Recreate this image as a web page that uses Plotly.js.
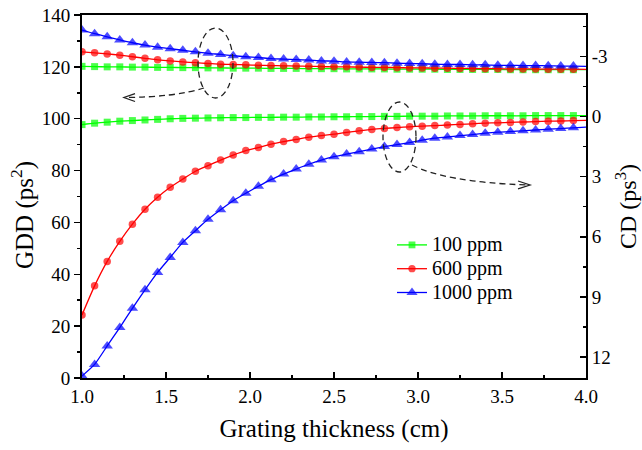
<!DOCTYPE html>
<html>
<head>
<meta charset="utf-8">
<script src="https://cdn.plot.ly/plotly-3.0.1.min.js"></script>
<style>
html,body{margin:0;padding:0;background:#fff;}
#chart{width:642px;height:450px;}
</style>
</head>
<body>
<div id="chart"></div>
<script>
// Grating thickness (cm): markers every 0.075 cm, line extends to 4.0
const thickness = [1.000,1.075,1.150,1.225,1.300,1.375,1.450,1.525,1.600,1.675,
  1.750,1.825,1.900,1.975,2.050,2.125,2.200,2.275,2.350,2.425,
  2.500,2.575,2.650,2.725,2.800,2.875,2.950,3.025,3.100,3.175,
  3.250,3.325,3.400,3.475,3.550,3.625,3.700,3.775,3.850,3.925,4.000];

// GDD (ps^2), left axis
const gdd100 = [120.2,120.1,120.0,120.0,119.9,119.9,119.8,119.8,119.7,119.7,
  119.6,119.6,119.5,119.5,119.5,119.4,119.4,119.4,119.3,119.3,
  119.3,119.2,119.2,119.2,119.2,119.1,119.1,119.1,119.1,119.0,
  119.0,119.0,119.0,119.0,118.9,118.9,118.9,118.9,118.9,118.9,118.9];
const gdd600 = [125.8,125.4,125.0,124.5,123.9,123.3,122.7,122.3,121.9,121.6,
  121.3,121.0,120.9,120.8,120.6,120.5,120.4,120.3,120.2,120.1,
  120.0,120.0,119.9,119.8,119.8,119.7,119.6,119.6,119.5,119.5,
  119.4,119.4,119.3,119.3,119.2,119.2,119.2,119.1,119.1,119.1,119.0];
const gdd1000 = [134.2,132.8,131.6,130.4,129.3,128.4,127.6,127.0,126.4,125.8,
  125.2,124.8,124.3,123.9,123.6,123.2,123.0,122.8,122.6,122.3,
  122.2,121.9,121.8,121.7,121.6,121.4,121.3,121.2,121.0,120.9,
  120.9,120.8,120.8,120.6,120.6,120.5,120.5,120.4,120.3,120.3,120.2];

// CD (ps^3), right axis (reversed)
const cd100 = [0.40,0.33,0.28,0.23,0.20,0.17,0.14,0.11,0.09,0.08,
  0.07,0.06,0.05,0.05,0.04,0.04,0.03,0.03,0.02,0.02,
  0.01,0.01,0.00,0.00,-0.01,-0.01,-0.02,-0.02,-0.02,-0.03,
  -0.03,-0.03,-0.04,-0.04,-0.04,-0.04,-0.05,-0.05,-0.05,-0.05,-0.05];
const cd600 = [9.90,8.45,7.23,6.23,5.37,4.63,4.03,3.53,3.12,2.73,
  2.45,2.17,1.92,1.70,1.55,1.38,1.25,1.14,1.03,0.95,
  0.88,0.79,0.71,0.64,0.59,0.55,0.51,0.48,0.45,0.42,
  0.39,0.36,0.33,0.31,0.29,0.27,0.25,0.23,0.22,0.20,0.19];
const cd1000 = [12.95,12.37,11.45,10.53,9.57,8.65,7.78,7.03,6.28,5.70,
  5.13,4.65,4.20,3.83,3.48,3.15,2.87,2.62,2.38,2.17,
  2.00,1.87,1.75,1.62,1.50,1.40,1.30,1.18,1.08,1.02,
  0.95,0.90,0.83,0.78,0.75,0.71,0.67,0.63,0.60,0.56,0.53];

const seriesNames = ['100 ppm','600 ppm','1000 ppm'];
const xTickVals = [1.0,1.5,2.0,2.5,3.0,3.5,4.0];
const xTickText = ['1.0','1.5','2.0','2.5','3.0','3.5','4.0'];
const yTickVals = [0,20,40,60,80,100,120,140];
const y2TickVals = [-3,0,3,6,9,12];
const y2TickText = ['-3','0','3','6','9','12'];
const xTitle = 'Grating thickness (cm)';
const yTitle = 'GDD (ps<sup>2</sup>)';
const y2Title = 'CD (ps<sup>3</sup>)';

const colors = ['#00ff00','#ff0000','#0000ff'];
const symbols = ['square','circle','triangle-up'];
const msize = [7,7.5,10];

function sizes(n, s){ const a = []; for(let i=0;i<n;i++) a.push(i===n-1?0:s); return a; }

const gddSeries = [gdd100, gdd600, gdd1000];
const cdSeries = [cd100, cd600, cd1000];
const traces = [];
for(let k=0;k<3;k++){
  traces.push({
    x: thickness, y: gddSeries[k], type:'scatter', mode:'lines+markers',
    name: '<span style="font-size:20px">'+seriesNames[k]+'</span>', yaxis:'y', showlegend:true,
    line:{color:colors[k], width:1.3, shape:'spline', smoothing:0.6},
    marker:{symbol:symbols[k], color:colors[k], size:sizes(thickness.length, msize[k]), line:{width:0}}
  });
}
for(let k=0;k<3;k++){
  traces.push({
    x: thickness, y: cdSeries[k], type:'scatter', mode:'lines+markers',
    name: seriesNames[k], yaxis:'y2', showlegend:false,
    line:{color:colors[k], width:1.3, shape:'spline', smoothing:0.6},
    marker:{symbol:symbols[k], color:colors[k], size:sizes(thickness.length, msize[k]), line:{width:0}}
  });
}

// pixel -> paper helpers for the decorations
const L=82, T=15, W=504, H=363;
function px(x){ return (x-L)/W; }
function py(y){ return (T+H-y)/H; }
function pt(x,y){ return px(x).toFixed(4)+','+py(y).toFixed(4); }

const dashStyle = '6px,4px';
const shapes = [
  {type:'circle', xref:'paper', yref:'paper', x0:px(198), x1:px(233), y0:py(28), y1:py(98),
   line:{color:'#222', width:1.3, dash:dashStyle}},
  {type:'circle', xref:'paper', yref:'paper', x0:px(383), x1:px(416), y0:py(102), y1:py(172),
   line:{color:'#222', width:1.3, dash:dashStyle}},
  {type:'path', xref:'paper', yref:'paper', path:'M'+pt(204,88)+' Q'+pt(175,97)+' '+pt(126,97.5),
   line:{color:'#222', width:1.3, dash:dashStyle}},
  {type:'path', xref:'paper', yref:'paper', path:'M'+pt(135,93.5)+' L'+pt(124,97.5)+' L'+pt(135,101.5),
   line:{color:'#222', width:1.3}},
  {type:'path', xref:'paper', yref:'paper', path:'M'+pt(412,165)+' Q'+pt(445,182)+' '+pt(527,185),
   line:{color:'#222', width:1.3, dash:dashStyle}},
  {type:'path', xref:'paper', yref:'paper', path:'M'+pt(518,181)+' L'+pt(530,185)+' L'+pt(518,189),
   line:{color:'#222', width:1.3}}
];

const font = '"Liberation Serif", "Times New Roman", serif';
const annotations = [
  {text:yTitle, xref:'paper', yref:'paper', x:px(22), y:py(215), xanchor:'center', yanchor:'middle',
   textangle:-90, showarrow:false, font:{family:font, size:25, color:'#000'}},
  {text:y2Title, xref:'paper', yref:'paper', x:px(626), y:py(207), xanchor:'center', yanchor:'middle',
   textangle:-90, showarrow:false, font:{family:font, size:24, color:'#000'}}
];

const layout = {
  width:642, height:450,
  margin:{l:L, r:642-L-W, t:T, b:450-T-H},
  paper_bgcolor:'#fff', plot_bgcolor:'#fff',
  font:{family:font, color:'#000', size:19},
  showlegend:true,
  legend:{x:px(392), y:py(228), xanchor:'left', yanchor:'top', bgcolor:'rgba(0,0,0,0)',
    font:{family:font, size:16, color:'#000'}},
  xaxis:{range:[1.0,4.0], tickvals:xTickVals, ticktext:xTickText, ticks:'inside', ticklen:6, tickwidth:1.5,
    tickcolor:'#000', showline:true, linewidth:2, linecolor:'#000', mirror:true, showgrid:false, zeroline:false,
    minor:{dtick:0.25, ticks:'inside', ticklen:3.5, tickwidth:1.5, tickcolor:'#000', showgrid:false},
    tickfont:{family:font, size:19},
    title:{text:xTitle, font:{family:font, size:25}, standoff:14}},
  yaxis:{range:[0,140], tickvals:yTickVals, ticks:'outside', ticklen:6, tickwidth:1.5, tickcolor:'#000',
    showline:true, linewidth:2, linecolor:'#000', showgrid:false, zeroline:false,
    minor:{dtick:10, ticks:'outside', ticklen:3.5, tickwidth:1.5, tickcolor:'#000', showgrid:false},
    tickfont:{family:font, size:19}},
  yaxis2:{range:[13.05,-5.07], overlaying:'y', side:'right', tickvals:y2TickVals, ticktext:y2TickText,
    ticks:'inside', ticklen:6, tickwidth:1.5, tickcolor:'#000',
    showline:true, linewidth:2, linecolor:'#000', showgrid:false, zeroline:false,
    minor:{dtick:1.5, ticks:'inside', ticklen:3.5, tickwidth:1.5, tickcolor:'#000', showgrid:false},
    tickfont:{family:font, size:19}},
  shapes:shapes,
  annotations:annotations
};
Plotly.newPlot('chart', traces, layout, {displayModeBar:false, staticPlot:true});
</script>
</body>
</html>
